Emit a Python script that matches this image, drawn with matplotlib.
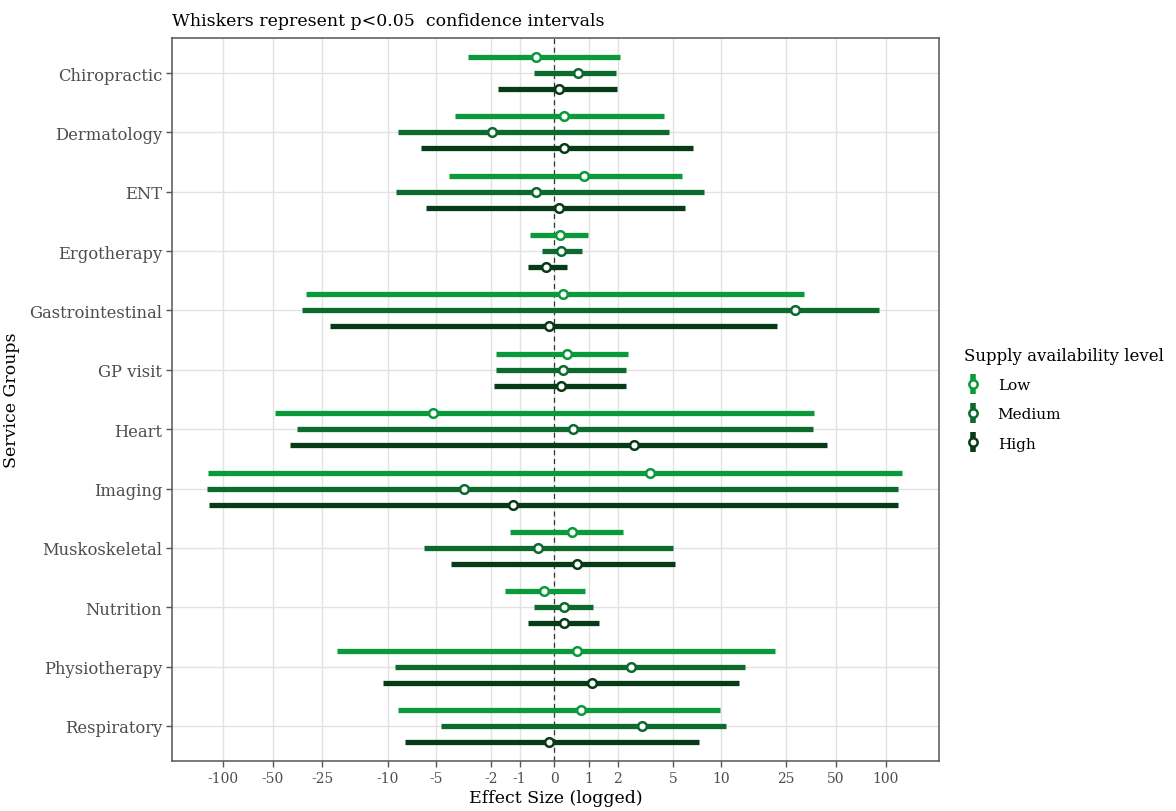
import matplotlib
matplotlib.use("Agg")
import matplotlib.pyplot as plt
from matplotlib.lines import Line2D
import numpy as np

# service groups, top to bottom
groups = ['Chiropractic', 'Dermatology', 'ENT', 'Ergotherapy', 'Gastrointestinal',
          'GP visit', 'Heart', 'Imaging', 'Muskoskeletal', 'Nutrition',
          'Physiotherapy', 'Respiratory']

# effect size estimates with 95% CI, per supply availability level
low_est = [-0.5, 0.28, 0.86, 0.17, 0.23, 0.35, -5.2, 3.5, 0.5, -0.3, 0.64, 0.75]
low_lo = [-3.0, -3.7, -4.1, -0.68, -31.6, -1.8, -48.0, -122.0, -1.31, -1.47, -20.4, -8.7]
low_hi = [2.08, 4.37, 5.76, 0.97, 32.1, 2.44, 36.9, 125.6, 2.22, 0.89, 21.4, 9.9]

med_est = [0.68, -1.96, -0.5, 0.2, 28.4, 0.23, 0.52, -3.23, -0.47, 0.27, 2.56, 3.11]
med_lo = [-0.56, -8.66, -8.95, -0.35, -33.4, -1.8, -35.8, -124.0, -5.9, -0.56, -9.0, -4.62]
med_hi = [1.93, 4.69, 7.9, 0.78, 90.6, 2.34, 36.3, 117.8, 5.0, 1.14, 14.1, 10.7]

high_est = [0.12, 0.28, 0.12, -0.22, -0.15, 0.19, 2.68, -1.2, 0.64, 0.27, 1.1, -0.14]
high_lo = [-1.73, -6.24, -5.78, -0.75, -22.6, -1.89, -39.1, -120.5, -3.94, -0.75, -10.7, -7.8]
high_hi = [1.98, 6.72, 6.0, 0.35, 22.1, 2.34, 43.9, 117.8, 5.18, 1.33, 12.9, 7.36]

levels = ['Low', 'Medium', 'High']
xticks = [-100, -50, -25, -10, -5, -2, -1, 0, 1, 2, 5, 10, 25, 50, 100]

colors = {'Low': '#0a9a3c', 'Medium': '#0b6a2c', 'High': '#073b18'}
series = {
    'Low': (low_est, low_lo, low_hi),
    'Medium': (med_est, med_lo, med_hi),
    'High': (high_est, high_lo, high_hi),
}
dodge = {'Low': -0.27, 'Medium': 0.0, 'High': 0.27}

plt.rcParams['font.family'] = ['DejaVu Serif']

fig = plt.figure(figsize=(11.76, 8.12), dpi=100)
ax = fig.add_axes([172 / 1176, 1 - 762 / 812, (939 - 172) / 1176, (762 - 39) / 812])

ax.set_xscale('asinh', linear_width=2)

y = np.arange(len(groups))
for lvl in levels:
    est, lo, hi = series[lvl]
    yy = y + dodge[lvl]
    ax.hlines(yy, lo, hi, color=colors[lvl], lw=3.8, zorder=3)
    ax.plot(est, yy, 'o', ms=6.2, mfc='white', mec=colors[lvl], mew=1.8,
            ls='none', zorder=4)

ax.axvline(0, color='#333333', lw=0.9, ls=(0, (4, 3)), zorder=2)

ax.set_xlim(-202, 209)
ax.set_ylim(len(groups) - 1 + 0.59, -0.59)
ax.set_yticks(y)
ax.set_yticklabels(groups)
ax.set_xticks(xticks)
ax.set_xticklabels([str(t) for t in xticks])
ax.xaxis.set_minor_locator(plt.NullLocator())

ax.grid(True, color='#e2e2e2', lw=1.0, zorder=0)
ax.set_axisbelow(True)
for sp in ax.spines.values():
    sp.set_color('#555555')
    sp.set_linewidth(1.1)
ax.tick_params(axis='both', colors='#555555', length=4, width=1.0)
ax.tick_params(axis='y', labelsize=11.8, labelcolor='#4d4d4d', pad=3)
ax.tick_params(axis='x', labelsize=10, labelcolor='#4d4d4d', pad=3)

ax.set_xlabel('Effect Size (logged)', fontsize=12.5, labelpad=3)
ax.set_ylabel('Service Groups', fontsize=12.5)
ax.yaxis.set_label_coords(-0.198, 0.5)
ax.set_title('Whiskers represent p<0.05  confidence intervals', loc='left',
             fontsize=12.5, pad=9)

handles = []
for lvl in levels:
    bar = Line2D([], [], marker='|', ms=15, mew=4.0, color=colors[lvl], ls='none')
    dot = Line2D([], [], marker='o', ms=6.0, mfc='white', mec=colors[lvl], mew=1.8, ls='none')
    handles.append((bar, dot))
leg = fig.legend(handles, levels, title='Supply availability level',
                 loc='upper left', bbox_to_anchor=(958 / 1176, 1 - 342 / 812),
                 frameon=False, fontsize=11, title_fontsize=12,
                 handlelength=1.2, labelspacing=1.0, handletextpad=1.0,
                 borderaxespad=0)
leg._legend_box.align = 'left'
leg._legend_box.sep = 10

fig.savefig('out.png', dpi=100)
